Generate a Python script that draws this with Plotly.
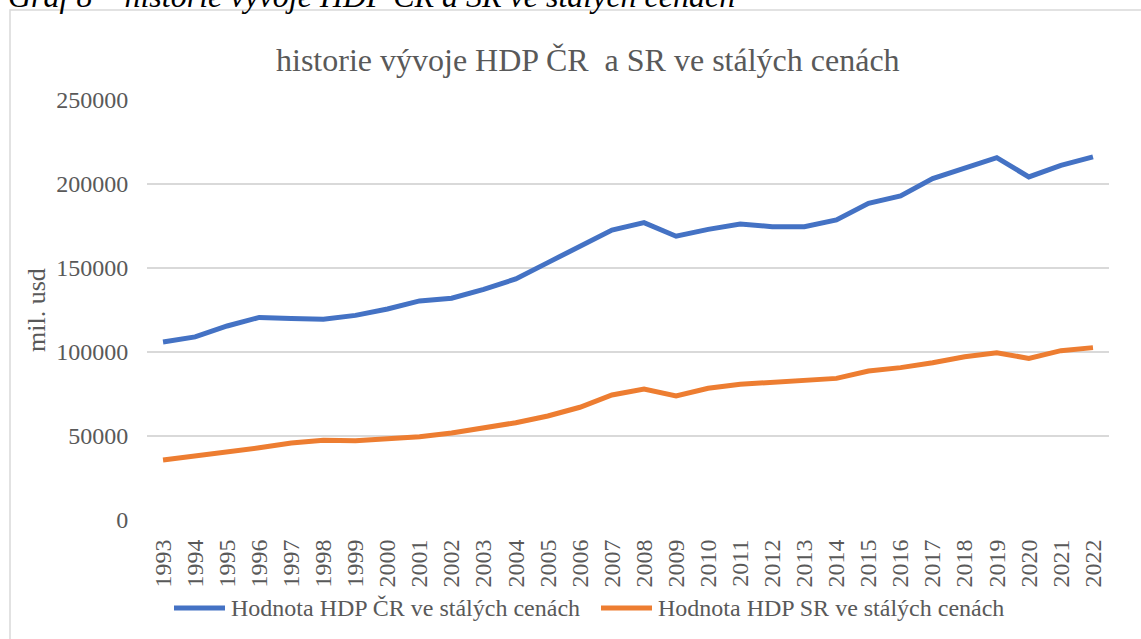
import plotly.graph_objects as go

years = [str(y) for y in range(1993, 2023)]
hdp_cr = [106000, 109000, 115500, 120600, 120000, 119500, 121800, 125600, 130400, 132000,
          137300, 143500, 153200, 163300, 172600, 177000, 168900, 173000, 176200, 174600,
          174600, 178600, 188500, 192900, 203200, 209500, 215700, 204200, 211100, 216100]
hdp_sr = [35700, 38100, 40100, 43000, 45800, 47400, 47200, 48200, 49600, 51800,
          54900, 57900, 61900, 67100, 74400, 78000, 73800, 78400, 80800, 82000,
          82600, 84300, 88700, 90700, 93600, 97200, 99600, 96200, 100800, 102600]
y_ticks = [0, 50000, 100000, 150000, 200000, 250000]
series_names = ["Hodnota HDP ČR ve stálých cenách", "Hodnota HDP SR ve stálých cenách"]
series_colors = ["#4472C4", "#ED7D31"]

W, H = 1141, 639
L, R, T, B = 147, 32, 100, 119
pw, ph = W - L - R, H - T - B

def px(x):
    return (x - L) / pw

def py(y):
    return (H - B - y) / ph

serif = "Liberation Serif, Times New Roman, serif"
gray = "#595959"

fig = go.Figure()
for vals, name, col in zip([hdp_cr, hdp_sr], series_names, series_colors):
    fig.add_trace(go.Scatter(x=years, y=vals, mode="lines", name=name,
                             line=dict(color=col, width=5), showlegend=False))

annotations = [
    dict(text="mil. usd", xref="paper", yref="paper", x=px(36), y=py(310),
         xanchor="center", yanchor="middle", textangle=-90, showarrow=False,
         font=dict(size=26, color=gray, family=serif)),
    dict(text="historie vývoje HDP ČR  a SR ve stálých cenách", xref="paper", yref="paper",
         x=px(588), y=py(60), xanchor="center", yanchor="middle", showarrow=False,
         font=dict(size=32, color=gray, family=serif)),
    dict(text="<i>Graf 8 – historie vývoje HDP ČR a SR ve stálých cenách</i>", xref="paper", yref="paper",
         x=px(6), y=py(-4), xanchor="left", yanchor="middle", showarrow=False,
         font=dict(size=32, color="black", family=serif)),
]
shapes = [
    dict(type="rect", xref="paper", yref="paper", x0=px(10), x1=px(1150), y0=py(650), y1=py(10),
         line=dict(color="#D9D9D9", width=1.5), fillcolor="rgba(0,0,0,0)", layer="below"),
]

# custom legend (swatch + label)
legend_starts = [172, 599]
for start, name, col in zip(legend_starts, series_names, series_colors):
    shapes.append(dict(type="line", xref="paper", yref="paper", x0=px(start + 2), x1=px(start + 53),
                       y0=py(608), y1=py(608), line=dict(color=col, width=5)))
    annotations.append(dict(text=name, xref="paper", yref="paper", x=px(start + 57), y=py(608),
                            xanchor="left", yanchor="middle", showarrow=False,
                            font=dict(size=24, color=gray, family=serif)))

fig.update_layout(
    width=W, height=H,
    margin=dict(l=L, r=R, t=T, b=B),
    paper_bgcolor="white", plot_bgcolor="white",
    font=dict(family=serif, color=gray, size=24),
    showlegend=False,
    xaxis=dict(type="category", range=[-0.5, 29.5], tickangle=-90, showgrid=False,
               showline=False, ticks="outside", ticklen=9, tickcolor="rgba(0,0,0,0)",
               tickfont=dict(size=24, color=gray)),
    yaxis=dict(range=[0, 250000], tickvals=y_ticks, ticktext=[str(v) for v in y_ticks],
               showgrid=True, gridcolor="#D9D9D9", gridwidth=1.5, zeroline=False,
               showline=False, ticks="outside", ticklen=13, tickcolor="rgba(0,0,0,0)",
               tickfont=dict(size=24, color=gray)),
    annotations=annotations,
    shapes=shapes,
)

fig.write_html("out.html", config={"displayModeBar": False},
               post_script="document.body.style.margin='0';document.body.style.overflow='hidden';")
